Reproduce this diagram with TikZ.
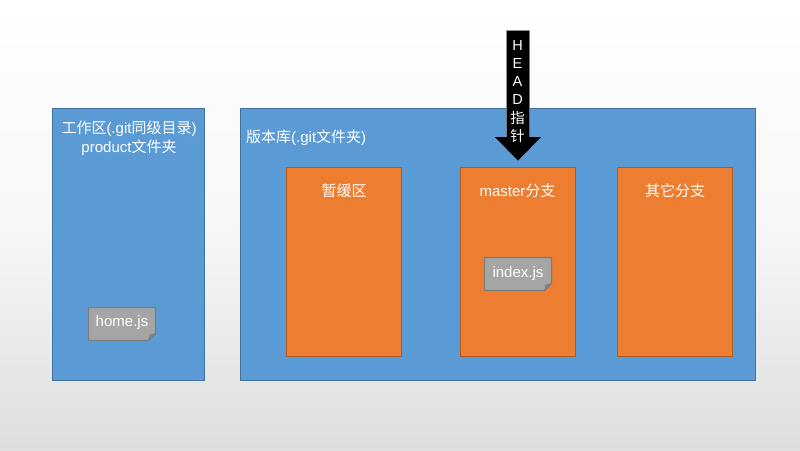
\documentclass[tikz,border=0pt]{standalone}
\usepackage{fontspec}
\setmainfont{Liberation Sans}
\newfontfamily\cjk{Noto Sans CJK SC}
\definecolor{bluef}{HTML}{5B9BD5}
\definecolor{blued}{HTML}{41719C}
\definecolor{orangef}{HTML}{ED7D31}
\definecolor{oranged}{HTML}{AE5A21}
\definecolor{grayf}{HTML}{A5A5A5}
\definecolor{grayd}{HTML}{7C7C7C}
\definecolor{foldc}{HTML}{848484}
\tikzset{
  panel/.style={draw=blued,fill=bluef,line width=0.9pt,anchor=north west,inner sep=0pt,outer sep=0pt},
  branch/.style={draw=oranged,fill=orangef,line width=0.9pt,anchor=north west,inner sep=0pt,outer sep=0pt,minimum width=115pt,minimum height=189pt},
  lbl/.style={text=white,font=\fontsize{15}{18}\selectfont,inner sep=0pt,align=center},
  arrowlbl/.style={lbl,font=\fontsize{14.5}{18}\selectfont},
  notebox/.style={inner sep=0pt,outer sep=0pt,minimum width=67pt,minimum height=33pt,anchor=north west},
  noteline/.style={draw=grayd,line width=1.2pt,line join=miter}
}
\newcommand{\notefold}[1]{%
  \path[noteline,fill=grayf] (#1.north west) -- (#1.north east) -- ([yshift=7pt]#1.south east) -- ([xshift=-7pt]#1.south east) -- (#1.south west) -- cycle;
  \path[fill=foldc,draw=grayd,line width=0.6pt] ([yshift=7pt]#1.south east) -- ([xshift=-7pt]#1.south east) -- ([xshift=-5.5pt,yshift=5.5pt]#1.south east) -- cycle;
}
\begin{document}
\begin{tikzpicture}[x=1pt,y=-1pt]
\useasboundingbox (0,0) rectangle (800,450);
\shade[top color=white,bottom color=white!87!black,middle color=white!97!black] (0,0) rectangle (800,450);
\node[panel,minimum width=152pt,minimum height=272pt] (work) at (52.5,108.5) {};
\node[panel,minimum width=515pt,minimum height=272pt] (repo) at (240.5,108.5) {};
\node[branch] (stage) at (286.5,167.5) {};
\node[branch] (master) at (460.5,167.5) {};
\node[branch] (other) at (617.5,167.5) {};
\node[lbl,anchor=center] (worklbl) at (129,129) {{\cjk 工作区}(.git{\cjk 同级目录})};
\node[lbl,anchor=center] (worklbl2) at (129,148) {product{\cjk 文件夹}};
\node[lbl,anchor=west] (repolbl) at (246,138) {{\cjk 版本库}(.git{\cjk 文件夹})};
\node[lbl] (stagelbl) at (344,190.5) {\cjk 暂缓区};
\node[lbl] (masterlbl) at (517.5,191) {master{\cjk 分支}};
\node[lbl] (otherlbl) at (675,190.5) {\cjk 其它分支};
\node[notebox] (home) at (88.5,307.5) {};
\notefold{home}
\node[lbl] (homelbl) at (122,323) {home.js};
\node[notebox] (index) at (484.5,257.5) {};
\notefold{index}
\node[lbl] (indexlbl) at (518,274) {index.js};
\path[fill=black,draw=black!45,line width=0.5pt] (506.5,30.5) -- (529.5,30.5) -- (529.5,137) -- (541,137) -- (518,160.5) -- (495,137) -- (506.5,137) -- cycle;
\fill[black] (495,137) -- (541,137) -- (518,160.5) -- cycle;
\node[arrowlbl] (h1) at (517.5,45.5) {H};
\node[arrowlbl] (h2) at (517.5,63.5) {E};
\node[arrowlbl] (h3) at (517.5,81.5) {A};
\node[arrowlbl] (h4) at (517.5,99.5) {D};
\node[arrowlbl] (h5) at (517.5,118) {\cjk 指};
\node[arrowlbl] (h6) at (517.5,136) {\cjk 针};
\end{tikzpicture}
\end{document}
